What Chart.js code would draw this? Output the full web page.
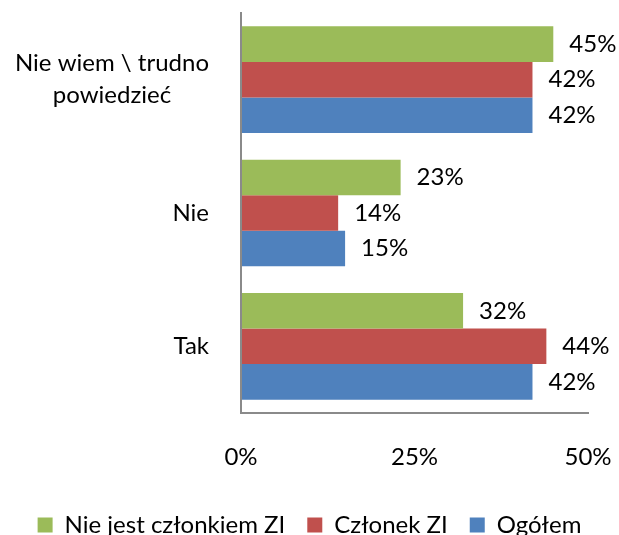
<!DOCTYPE html>
<html>
<head>
<meta charset="utf-8">
<script src="https://cdn.jsdelivr.net/npm/chart.js@4/dist/chart.umd.min.js"></script>
<style>
  html, body { margin: 0; padding: 0; background: #fff; }
  #wrap { width: 619px; height: 535px; }
</style>
</head>
<body>
<div id="wrap"><canvas id="chart" width="619" height="535"></canvas></div>
<script>
// ── Data ─────────────────────────────────────────────────────
const categories  = [['Nie wiem \\ trudno', 'powiedzieć'], 'Nie', 'Tak'];
const nieCzlonek  = [45, 23, 32];   // Nie jest członkiem ZI
const czlonek     = [42, 14, 44];   // Członek ZI
const ogolem      = [42, 15, 42];   // Ogółem
const xTicks      = [0, 25, 50];

const FONT = 'Lato, "Open Sans", sans-serif';
const FSIZE = 24;

// ── Value labels next to the bars ────────────────────────────
const valueLabels = {
  id: 'valueLabels',
  afterDatasetsDraw(chart) {
    const ctx = chart.ctx;
    ctx.save();
    ctx.font = `${FSIZE}px ${FONT}`;
    ctx.fillStyle = '#000';
    ctx.textAlign = 'left';
    ctx.textBaseline = 'middle';
    chart.data.datasets.forEach((ds, i) => {
      chart.getDatasetMeta(i).data.forEach((bar, j) => {
        ctx.fillText(ds.data[j] + '%', bar.x + 16, bar.y);
      });
    });
    ctx.restore();
  }
};

// ── Category labels (Excel style: lines centred, block right aligned)
const catLabels = {
  id: 'catLabels',
  afterDraw(chart) {
    const ctx = chart.ctx;
    const y = chart.scales.y;
    const right = chart.chartArea.left - 32;
    const lh = 32;
    ctx.save();
    ctx.font = `${FSIZE}px ${FONT}`;
    ctx.fillStyle = '#000';
    ctx.textAlign = 'center';
    ctx.textBaseline = 'middle';
    categories.forEach((lab, i) => {
      const lines = Array.isArray(lab) ? lab : [lab];
      const w = Math.max(...lines.map(l => ctx.measureText(l).width));
      const cy = y.getPixelForValue(i);
      lines.forEach((l, k) => {
        ctx.fillText(l, right - w / 2, cy + (k - (lines.length - 1) / 2) * lh);
      });
    });
    ctx.restore();
  }
};

new Chart(document.getElementById('chart'), {
  type: 'bar',
  data: {
    labels: categories,
    datasets: [
      { label: 'Nie jest członkiem ZI', data: nieCzlonek, backgroundColor: '#9BBB59' },
      { label: 'Członek ZI',            data: czlonek,    backgroundColor: '#C0504D' },
      { label: 'Ogółem',                data: ogolem,     backgroundColor: '#4F81BD' }
    ]
  },
  options: {
    indexAxis: 'y',
    responsive: false,
    animation: false,
    categoryPercentage: 0.8,
    barPercentage: 1.0,
    layout: { padding: { top: 13, right: 0, left: 0, bottom: -12 } },
    plugins: {
      tooltip: { enabled: false },
      legend: {
        position: 'bottom',
        labels: {
          boxWidth: 15, boxHeight: 15, padding: 22,
          color: '#000',
          font: { family: FONT, size: FSIZE }
        }
      }
    },
    scales: {
      x: {
        min: 0, max: 50,
        afterBuildTicks(scale) { scale.ticks = xTicks.map(v => ({ value: v })); },
        afterFit(scale) {
          scale.height = 78;
          scale.paddingLeft = 0;
          scale.paddingRight = 0;
        },
        grid: { display: false },
        border: { display: true, color: '#8a8a8a', width: 2, z: 1 },
        ticks: {
          padding: 22,
          color: '#000',
          font: { family: FONT, size: FSIZE },
          callback: v => v + '%'
        }
      },
      y: {
        afterFit(scale) { scale.width = 241; },
        grid: { display: false },
        border: { display: true, color: '#8a8a8a', width: 2, z: 1 },
        ticks: { display: false }
      },
      // empty right-hand axis: keeps space right of the plot
      yRight: {
        axis: 'y',
        type: 'linear',
        position: 'right',
        afterFit(scale) {
          scale.width = 31;
          scale.paddingTop = 0;
          scale.paddingBottom = 0;
        },
        grid: { display: false },
        border: { display: false },
        ticks: { display: false }
      }
    }
  },
  plugins: [valueLabels, catLabels]
});
</script>
</body>
</html>
